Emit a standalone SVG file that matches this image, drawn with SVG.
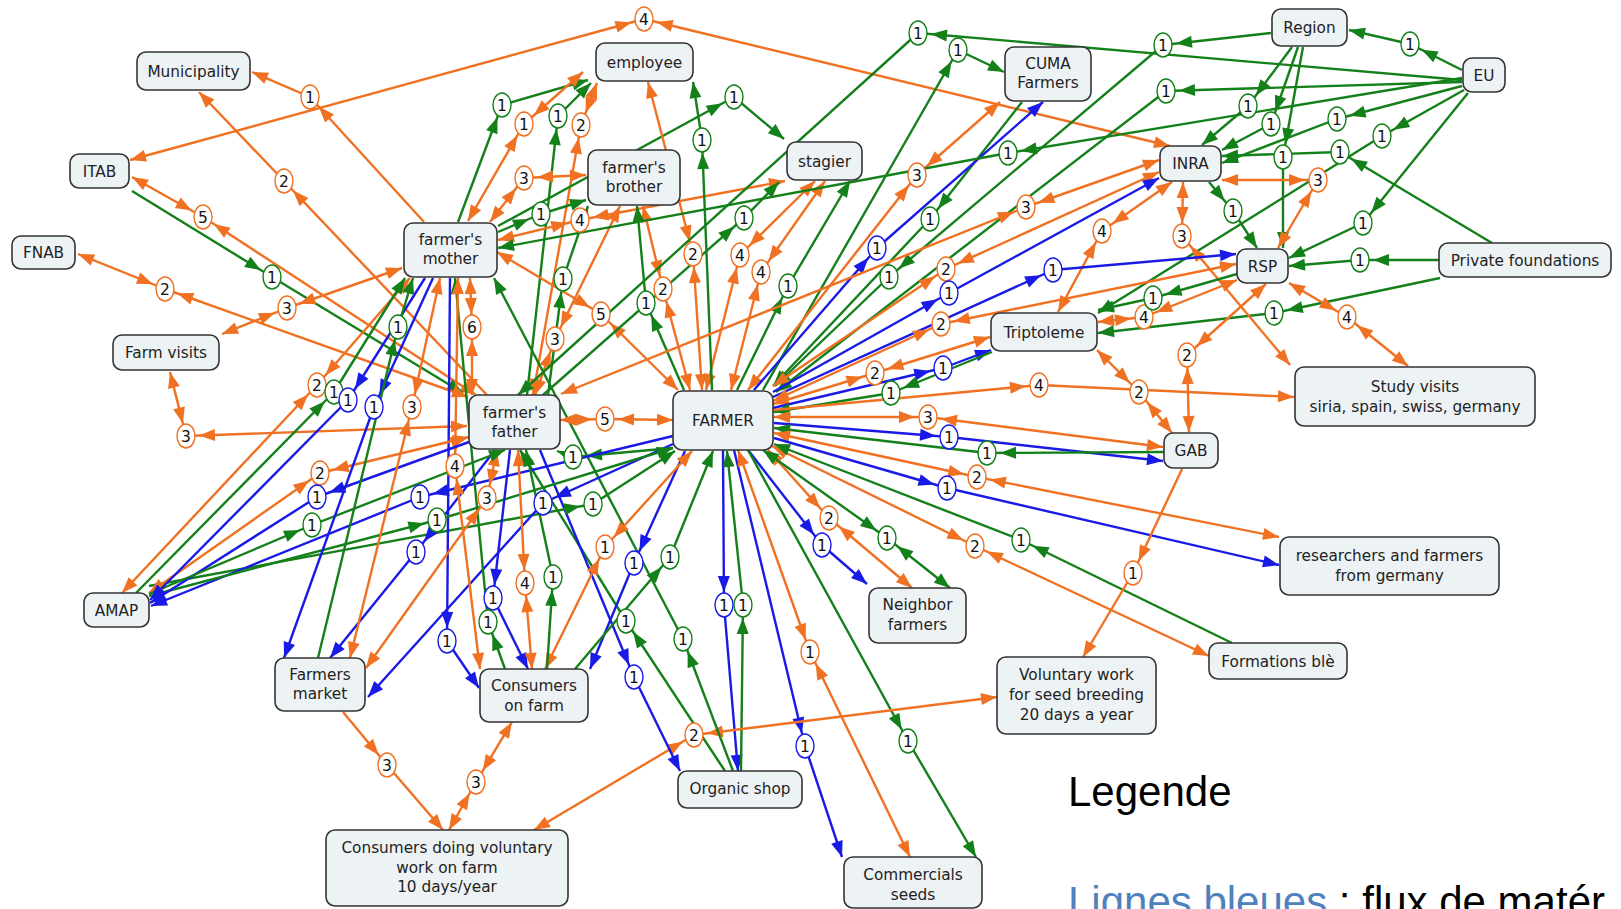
<svg xmlns="http://www.w3.org/2000/svg" width="1621" height="909" viewBox="0 0 1621 909">
<style>
#connectors path{fill:none;stroke-width:2.4}
.ou1,.ou2,.ob1,.ob2{stroke:#f07122}
.gu1,.gu2,.gb1,.gb2{stroke:#14801a}
.bu1,.bu2{stroke:#1a1ae6}
.ou1{marker-end:url(#oL)} .ou2{marker-end:url(#oN)}
.ob1{marker-start:url(#oN);marker-end:url(#oL)} .ob2{marker-start:url(#oL);marker-end:url(#oN)}
.gu1{marker-end:url(#gL)} .gu2{marker-end:url(#gN)}
.gb1{marker-start:url(#gN);marker-end:url(#gL)} .gb2{marker-start:url(#gL);marker-end:url(#gN)}
.bu1{marker-end:url(#bL)} .bu2{marker-end:url(#bN)}
.lo,.lg,.lb{fill:#fff;stroke-width:1.4}
.lo{stroke:#f07122} .lg{stroke:#14801a} .lb{stroke:#1a1ae6}
.lt{font-family:"DejaVu Sans",Verdana,sans-serif;font-size:15.5px;fill:#111;text-anchor:middle}
.node rect{fill:#edf2f5;stroke:#333;stroke-width:1.6}
.node text{font-family:"DejaVu Sans",Verdana,sans-serif;font-size:15.3px;fill:#222;text-anchor:middle}
.leg{font-family:"Liberation Sans",Arial,sans-serif;font-size:42px;fill:#000}
</style>
<defs>
<marker id="oN" markerUnits="userSpaceOnUse" markerWidth="16" markerHeight="13" refX="16" refY="6.5" orient="auto-start-reverse" overflow="visible"><path d="M0 0.5L16 6.5L0 12.5z" fill="#f07122" stroke="none"/></marker>
<marker id="oL" markerUnits="userSpaceOnUse" markerWidth="16" markerHeight="13" refX="29" refY="6.5" orient="auto-start-reverse" overflow="visible"><path d="M0 0.5L16 6.5L0 12.5z" fill="#f07122" stroke="none"/></marker>
<marker id="gN" markerUnits="userSpaceOnUse" markerWidth="16" markerHeight="13" refX="16" refY="6.5" orient="auto-start-reverse" overflow="visible"><path d="M0 0.5L16 6.5L0 12.5z" fill="#14801a" stroke="none"/></marker>
<marker id="gL" markerUnits="userSpaceOnUse" markerWidth="16" markerHeight="13" refX="29" refY="6.5" orient="auto-start-reverse" overflow="visible"><path d="M0 0.5L16 6.5L0 12.5z" fill="#14801a" stroke="none"/></marker>
<marker id="bN" markerUnits="userSpaceOnUse" markerWidth="16" markerHeight="13" refX="16" refY="6.5" orient="auto-start-reverse" overflow="visible"><path d="M0 0.5L16 6.5L0 12.5z" fill="#1a1ae6" stroke="none"/></marker>
<marker id="bL" markerUnits="userSpaceOnUse" markerWidth="16" markerHeight="13" refX="29" refY="6.5" orient="auto-start-reverse" overflow="visible"><path d="M0 0.5L16 6.5L0 12.5z" fill="#1a1ae6" stroke="none"/></marker>
</defs>
<rect width="1621" height="909" fill="#fff"/>
<g id="connectors">
<path class="ob1" d="M130 160L644 19"/><path class="ob2" d="M644 19L1170 146"/>
<path class="ou1" d="M424 222L310 97"/><path class="ou2" d="M310 97L252 72"/>
<path class="ou1" d="M487 395L284 181"/><path class="ou2" d="M284 181L199 92"/>
<path class="ob1" d="M132 177L203 217"/><path class="ob2" d="M203 217L476 395"/>
<path class="gu1" d="M132 191L272 277"/><path class="gu2" d="M272 277L463 393"/>
<path class="ob1" d="M78 254L165 289"/><path class="ob2" d="M165 289L468 397"/>
<path class="ob1" d="M222 334L287 308"/><path class="ob2" d="M287 308L402 268"/>
<path class="ob1" d="M170 372L186 436"/><path class="ob2" d="M186 436L467 426"/>
<path class="gu1" d="M458 222L502 105"/><path class="gu2" d="M502 105L588 80"/>
<path class="ob1" d="M468 221L524 124"/><path class="ob2" d="M524 124L583 72"/>
<path class="gu1" d="M527 395L558 116"/><path class="gu2" d="M558 116L591 83"/>
<path class="ob1" d="M533 395L581 125"/><path class="ob2" d="M581 125L597 83"/>
<path class="ob1" d="M490 222L524 178"/><path class="ob2" d="M524 178L586 175"/>
<path class="gu1" d="M498 232L541 214"/><path class="gu2" d="M541 214L586 200"/>
<path class="gu1" d="M498 226L734 97"/><path class="gu2" d="M734 97L784 139"/>
<path class="ob1" d="M498 240L580 220"/><path class="ob2" d="M580 220L785 181"/>
<path class="gu1" d="M548 395L563 279"/><path class="gu2" d="M563 279L588 206"/>
<path class="ob1" d="M648 82L693 254"/><path class="ob2" d="M693 254L702 390"/>
<path class="ob1" d="M643 206L663 289"/><path class="ob2" d="M663 289L690 390"/>
<path class="gu1" d="M684 390L646 303"/><path class="gu2" d="M646 303L637 206"/>
<path class="ob1" d="M497 252L601 314"/><path class="ob2" d="M601 314L678 390"/>
<path class="ob1" d="M620 206L555 339"/><path class="ob2" d="M555 339L535 395"/>
<path class="gu1" d="M543 395L744 218"/><path class="gu2" d="M744 218L779 182"/>
<path class="ob1" d="M815 181L740 255"/><path class="ob2" d="M740 255L706 390"/>
<path class="ob1" d="M825 181L761 272"/><path class="ob2" d="M761 272L731 390"/>
<path class="gu1" d="M737 390L788 286"/><path class="gu2" d="M788 286L850 181"/>
<path class="gu1" d="M712 390L702 140"/><path class="gu2" d="M702 140L693 82"/>
<path class="gu1" d="M1462 80L918 33"/><path class="gu2" d="M918 33L518 395"/>
<path class="gu1" d="M763 390L958 50"/><path class="gu2" d="M958 50L1004 72"/>
<path class="ob1" d="M748 390L917 175"/><path class="ob2" d="M917 175L1000 102"/>
<path class="gu1" d="M1022 102L930 219"/><path class="gu2" d="M930 219L773 386"/>
<path class="bu1" d="M754 390L877 248"/><path class="bu2" d="M877 248L1043 102"/>
<path class="gu1" d="M1271 33L1163 45"/><path class="gu1" d="M1163 45L889 277"/>
<path class="gu2" d="M889 277L775 386"/>
<path class="gu1" d="M1462 82L1166 91"/><path class="gu2" d="M1166 91L776 392"/>
<path class="gu1" d="M1462 70L1410 44"/><path class="gu2" d="M1410 44L1349 30"/>
<path class="gu1" d="M1292 47L1248 106"/><path class="gu2" d="M1248 106L1202 145"/>
<path class="gu1" d="M1298 47L1271 124"/><path class="gu2" d="M1271 124L1222 150"/>
<path class="gu1" d="M1303 47L1283 157"/><path class="gu2" d="M1283 157L1283 248"/>
<path class="gu1" d="M1462 86L1337 119"/><path class="gu2" d="M1337 119L1222 163"/>
<path class="gu1" d="M1464 90L1382 136"/><path class="gu2" d="M1382 136L1098 313"/>
<path class="gu1" d="M1468 93L1363 223"/><path class="gu2" d="M1363 223L1289 258"/>
<path class="gu1" d="M1439 260L1360 260"/><path class="gu2" d="M1360 260L1289 266"/>
<path class="gu1" d="M1492 243L1340 152"/><path class="gu2" d="M1340 152L1222 156"/>
<path class="gu1" d="M1440 278L1274 313"/><path class="gu2" d="M1274 313L1098 333"/>
<path class="gu1" d="M1209 182L1233 211"/><path class="gu2" d="M1233 211L1257 248"/>
<path class="gu1" d="M1462 78L1008 153"/><path class="gu2" d="M1008 153L498 248"/>
<path class="ob1" d="M1222 180L1318 180"/><path class="ob2" d="M1318 180L1278 248"/>
<path class="ob1" d="M1183 182L1182 236"/><path class="ob2" d="M1182 236L1290 365"/>
<path class="ob1" d="M1058 312L1102 231"/><path class="ob2" d="M1102 231L1172 182"/>
<path class="ob1" d="M561 394L1026 207"/><path class="ob2" d="M1026 207L1159 160"/>
<path class="ob1" d="M773 386L946 269"/><path class="ob2" d="M946 269L1159 172"/>
<path class="bu1" d="M773 392L949 293"/><path class="bu2" d="M949 293L1159 178"/>
<path class="bu1" d="M773 397L1053 270"/><path class="bu2" d="M1053 270L1236 254"/>
<path class="ob1" d="M773 401L941 324"/><path class="ob2" d="M941 324L1236 264"/>
<path class="ob1" d="M773 404L875 373"/><path class="ob2" d="M875 373L990 337"/>
<path class="bu1" d="M773 408L943 368"/><path class="bu2" d="M943 368L991 350"/>
<path class="gu1" d="M992 352L891 393"/><path class="gu2" d="M891 393L774 412"/>
<path class="ou1" d="M774 410L1039 385"/><path class="ou2" d="M1039 385L1294 397"/>
<path class="ob1" d="M1097 350L1139 392"/><path class="ob2" d="M1139 392L1172 433"/>
<path class="ob1" d="M1266 284L1187 355"/><path class="ob2" d="M1187 355L1189 432"/>
<path class="ob1" d="M1098 322L1144 317"/><path class="ob2" d="M1144 317L1237 280"/>
<path class="gu1" d="M1237 274L1153 298"/><path class="gu2" d="M1153 298L1098 310"/>
<path class="ob1" d="M1289 283L1347 317"/><path class="ob2" d="M1347 317L1408 366"/>
<path class="ob1" d="M774 417L928 417"/><path class="ob2" d="M928 417L1163 447"/>
<path class="bu1" d="M774 423L949 437"/><path class="bu2" d="M949 437L1163 461"/>
<path class="gu1" d="M1164 452L987 453"/><path class="gu2" d="M987 453L774 428"/>
<path class="ob1" d="M774 433L977 477"/><path class="ob2" d="M977 477L1279 537"/>
<path class="bu1" d="M774 438L947 488"/><path class="bu2" d="M947 488L1279 565"/>
<path class="ob1" d="M772 446L975 546"/><path class="ob2" d="M975 546L1209 656"/>
<path class="gu1" d="M1232 643L1021 540"/><path class="gu2" d="M1021 540L774 444"/>
<path class="ou1" d="M1182 469L1133 573"/><path class="ou2" d="M1133 573L1083 657"/>
<path class="ob1" d="M768 450L829 518"/><path class="ob2" d="M829 518L912 588"/>
<path class="gb1" d="M763 450L887 538"/><path class="gb2" d="M887 538L950 588"/>
<path class="bu1" d="M748 450L822 545"/><path class="bu2" d="M822 545L867 584"/>
<path class="bu1" d="M723 450L724 605"/><path class="bu2" d="M724 605L738 771"/>
<path class="gu1" d="M741 771L743 605"/><path class="gu2" d="M743 605L727 451"/>
<path class="bu1" d="M734 450L805 746"/><path class="bu2" d="M805 746L842 857"/>
<path class="ob1" d="M738 450L810 652"/><path class="ob2" d="M810 652L910 857"/>
<path class="gu1" d="M748 450L908 741"/><path class="gu2" d="M908 741L976 857"/>
<path class="ob1" d="M997 697L694 735"/><path class="ob2" d="M694 735L534 830"/>
<path class="gu1" d="M733 771L683 639"/><path class="gu2" d="M683 639L494 278"/>
<path class="gu1" d="M725 771L626 621"/><path class="gu2" d="M626 621L520 450"/>
<path class="bu1" d="M540 450L634 677"/><path class="bu2" d="M634 677L680 771"/>
<path class="bu1" d="M685 451L634 563"/><path class="bu2" d="M634 563L590 669"/>
<path class="gu1" d="M575 669L670 557"/><path class="gu2" d="M670 557L713 451"/>
<path class="ob1" d="M692 451L605 547"/><path class="ob2" d="M605 547L545 669"/>
<path class="gu1" d="M149 586L593 504"/><path class="gu2" d="M593 504L675 451"/>
<path class="ob1" d="M560 420L605 419"/><path class="ob2" d="M605 419L673 420"/>
<path class="gu1" d="M673 448L573 457"/><path class="gu2" d="M573 457L557 451"/>
<path class="bu1" d="M450 278L447 641"/><path class="bu2" d="M447 641L479 688"/>
<path class="bu1" d="M673 444L543 503"/><path class="bu2" d="M543 503L368 697"/>
<path class="bu1" d="M673 436L420 497"/><path class="bu2" d="M420 497L151 606"/>
<path class="gu1" d="M149 596L437 520"/><path class="gu2" d="M437 520L673 448"/>
<path class="bu1" d="M495 450L416 552"/><path class="bu2" d="M416 552L330 658"/>
<path class="bu1" d="M510 450L493 598"/><path class="bu2" d="M493 598L528 669"/>
<path class="gu1" d="M505 669L488 622"/><path class="gu2" d="M488 622L455 278"/>
<path class="ob1" d="M518 450L525 583"/><path class="ob2" d="M525 583L532 669"/>
<path class="gu1" d="M547 669L553 577"/><path class="gu2" d="M553 577L526 450"/>
<path class="ob1" d="M497 450L487 498"/><path class="ob2" d="M487 498L366 668"/>
<path class="ob1" d="M458 278L455 466"/><path class="ob2" d="M455 466L480 669"/>
<path class="ob1" d="M469 437L320 473"/><path class="ob2" d="M320 473L149 593"/>
<path class="bu1" d="M469 442L317 497"/><path class="bu2" d="M317 497L150 603"/>
<path class="gu1" d="M149 594L312 525"/><path class="gu2" d="M312 525L505 450"/>
<path class="ob1" d="M410 278L317 385"/><path class="ob2" d="M317 385L122 593"/>
<path class="gu1" d="M136 593L334 392"/><path class="gu2" d="M334 392L405 278"/>
<path class="bu1" d="M425 278L348 400"/><path class="bu2" d="M348 400L150 600"/>
<path class="bu1" d="M433 278L374 407"/><path class="bu2" d="M374 407L284 658"/>
<path class="gu1" d="M318 658L398 327"/><path class="gu2" d="M398 327L413 278"/>
<path class="ob1" d="M470 278L472 327"/><path class="ob2" d="M472 327L472 395"/>
<path class="ob1" d="M440 278L412 407"/><path class="ob2" d="M412 407L350 658"/>
<path class="ou1" d="M343 712L387 765"/><path class="ou2" d="M387 765L443 830"/>
<path class="ob1" d="M512 722L476 782"/><path class="ob2" d="M476 782L449 830"/>
<g id="labels">
<ellipse class="lo" cx="644" cy="19" rx="9" ry="12"/><text class="lt" x="644" y="24.5">4</text>
<ellipse class="lo" cx="310" cy="97" rx="9" ry="12"/><text class="lt" x="310" y="102.5">1</text>
<ellipse class="lo" cx="284" cy="181" rx="9" ry="12"/><text class="lt" x="284" y="186.5">2</text>
<ellipse class="lo" cx="203" cy="217" rx="9" ry="12"/><text class="lt" x="203" y="222.5">5</text>
<ellipse class="lg" cx="272" cy="277" rx="9" ry="12"/><text class="lt" x="272" y="282.5">1</text>
<ellipse class="lo" cx="165" cy="289" rx="9" ry="12"/><text class="lt" x="165" y="294.5">2</text>
<ellipse class="lo" cx="287" cy="308" rx="9" ry="12"/><text class="lt" x="287" y="313.5">3</text>
<ellipse class="lo" cx="186" cy="436" rx="9" ry="12"/><text class="lt" x="186" y="441.5">3</text>
<ellipse class="lg" cx="502" cy="105" rx="9" ry="12"/><text class="lt" x="502" y="110.5">1</text>
<ellipse class="lo" cx="524" cy="124" rx="9" ry="12"/><text class="lt" x="524" y="129.5">1</text>
<ellipse class="lg" cx="558" cy="116" rx="9" ry="12"/><text class="lt" x="558" y="121.5">1</text>
<ellipse class="lo" cx="581" cy="125" rx="9" ry="12"/><text class="lt" x="581" y="130.5">2</text>
<ellipse class="lo" cx="524" cy="178" rx="9" ry="12"/><text class="lt" x="524" y="183.5">3</text>
<ellipse class="lg" cx="541" cy="214" rx="9" ry="12"/><text class="lt" x="541" y="219.5">1</text>
<ellipse class="lg" cx="734" cy="97" rx="9" ry="12"/><text class="lt" x="734" y="102.5">1</text>
<ellipse class="lo" cx="580" cy="220" rx="9" ry="12"/><text class="lt" x="580" y="225.5">4</text>
<ellipse class="lg" cx="563" cy="279" rx="9" ry="12"/><text class="lt" x="563" y="284.5">1</text>
<ellipse class="lo" cx="693" cy="254" rx="9" ry="12"/><text class="lt" x="693" y="259.5">2</text>
<ellipse class="lo" cx="663" cy="289" rx="9" ry="12"/><text class="lt" x="663" y="294.5">2</text>
<ellipse class="lg" cx="646" cy="303" rx="9" ry="12"/><text class="lt" x="646" y="308.5">1</text>
<ellipse class="lo" cx="601" cy="314" rx="9" ry="12"/><text class="lt" x="601" y="319.5">5</text>
<ellipse class="lo" cx="555" cy="339" rx="9" ry="12"/><text class="lt" x="555" y="344.5">3</text>
<ellipse class="lg" cx="744" cy="218" rx="9" ry="12"/><text class="lt" x="744" y="223.5">1</text>
<ellipse class="lo" cx="740" cy="255" rx="9" ry="12"/><text class="lt" x="740" y="260.5">4</text>
<ellipse class="lo" cx="761" cy="272" rx="9" ry="12"/><text class="lt" x="761" y="277.5">4</text>
<ellipse class="lg" cx="788" cy="286" rx="9" ry="12"/><text class="lt" x="788" y="291.5">1</text>
<ellipse class="lg" cx="702" cy="140" rx="9" ry="12"/><text class="lt" x="702" y="145.5">1</text>
<ellipse class="lg" cx="918" cy="33" rx="9" ry="12"/><text class="lt" x="918" y="38.5">1</text>
<ellipse class="lg" cx="958" cy="50" rx="9" ry="12"/><text class="lt" x="958" y="55.5">1</text>
<ellipse class="lo" cx="917" cy="175" rx="9" ry="12"/><text class="lt" x="917" y="180.5">3</text>
<ellipse class="lg" cx="930" cy="219" rx="9" ry="12"/><text class="lt" x="930" y="224.5">1</text>
<ellipse class="lb" cx="877" cy="248" rx="9" ry="12"/><text class="lt" x="877" y="253.5">1</text>
<ellipse class="lg" cx="1163" cy="45" rx="9" ry="12"/><text class="lt" x="1163" y="50.5">1</text>
<ellipse class="lg" cx="889" cy="277" rx="9" ry="12"/><text class="lt" x="889" y="282.5">1</text>
<ellipse class="lg" cx="1166" cy="91" rx="9" ry="12"/><text class="lt" x="1166" y="96.5">1</text>
<ellipse class="lg" cx="1410" cy="44" rx="9" ry="12"/><text class="lt" x="1410" y="49.5">1</text>
<ellipse class="lg" cx="1248" cy="106" rx="9" ry="12"/><text class="lt" x="1248" y="111.5">1</text>
<ellipse class="lg" cx="1271" cy="124" rx="9" ry="12"/><text class="lt" x="1271" y="129.5">1</text>
<ellipse class="lg" cx="1283" cy="157" rx="9" ry="12"/><text class="lt" x="1283" y="162.5">1</text>
<ellipse class="lg" cx="1337" cy="119" rx="9" ry="12"/><text class="lt" x="1337" y="124.5">1</text>
<ellipse class="lg" cx="1382" cy="136" rx="9" ry="12"/><text class="lt" x="1382" y="141.5">1</text>
<ellipse class="lg" cx="1363" cy="223" rx="9" ry="12"/><text class="lt" x="1363" y="228.5">1</text>
<ellipse class="lg" cx="1360" cy="260" rx="9" ry="12"/><text class="lt" x="1360" y="265.5">1</text>
<ellipse class="lg" cx="1340" cy="152" rx="9" ry="12"/><text class="lt" x="1340" y="157.5">1</text>
<ellipse class="lg" cx="1274" cy="313" rx="9" ry="12"/><text class="lt" x="1274" y="318.5">1</text>
<ellipse class="lg" cx="1233" cy="211" rx="9" ry="12"/><text class="lt" x="1233" y="216.5">1</text>
<ellipse class="lg" cx="1008" cy="153" rx="9" ry="12"/><text class="lt" x="1008" y="158.5">1</text>
<ellipse class="lo" cx="1318" cy="180" rx="9" ry="12"/><text class="lt" x="1318" y="185.5">3</text>
<ellipse class="lo" cx="1182" cy="236" rx="9" ry="12"/><text class="lt" x="1182" y="241.5">3</text>
<ellipse class="lo" cx="1102" cy="231" rx="9" ry="12"/><text class="lt" x="1102" y="236.5">4</text>
<ellipse class="lo" cx="1026" cy="207" rx="9" ry="12"/><text class="lt" x="1026" y="212.5">3</text>
<ellipse class="lo" cx="946" cy="269" rx="9" ry="12"/><text class="lt" x="946" y="274.5">2</text>
<ellipse class="lb" cx="949" cy="293" rx="9" ry="12"/><text class="lt" x="949" y="298.5">1</text>
<ellipse class="lb" cx="1053" cy="270" rx="9" ry="12"/><text class="lt" x="1053" y="275.5">1</text>
<ellipse class="lo" cx="941" cy="324" rx="9" ry="12"/><text class="lt" x="941" y="329.5">2</text>
<ellipse class="lo" cx="875" cy="373" rx="9" ry="12"/><text class="lt" x="875" y="378.5">2</text>
<ellipse class="lb" cx="943" cy="368" rx="9" ry="12"/><text class="lt" x="943" y="373.5">1</text>
<ellipse class="lg" cx="891" cy="393" rx="9" ry="12"/><text class="lt" x="891" y="398.5">1</text>
<ellipse class="lo" cx="1039" cy="385" rx="9" ry="12"/><text class="lt" x="1039" y="390.5">4</text>
<ellipse class="lo" cx="1139" cy="392" rx="9" ry="12"/><text class="lt" x="1139" y="397.5">2</text>
<ellipse class="lo" cx="1187" cy="355" rx="9" ry="12"/><text class="lt" x="1187" y="360.5">2</text>
<ellipse class="lo" cx="1144" cy="317" rx="9" ry="12"/><text class="lt" x="1144" y="322.5">4</text>
<ellipse class="lg" cx="1153" cy="298" rx="9" ry="12"/><text class="lt" x="1153" y="303.5">1</text>
<ellipse class="lo" cx="1347" cy="317" rx="9" ry="12"/><text class="lt" x="1347" y="322.5">4</text>
<ellipse class="lo" cx="928" cy="417" rx="9" ry="12"/><text class="lt" x="928" y="422.5">3</text>
<ellipse class="lb" cx="949" cy="437" rx="9" ry="12"/><text class="lt" x="949" y="442.5">1</text>
<ellipse class="lg" cx="987" cy="453" rx="9" ry="12"/><text class="lt" x="987" y="458.5">1</text>
<ellipse class="lo" cx="977" cy="477" rx="9" ry="12"/><text class="lt" x="977" y="482.5">2</text>
<ellipse class="lb" cx="947" cy="488" rx="9" ry="12"/><text class="lt" x="947" y="493.5">1</text>
<ellipse class="lo" cx="975" cy="546" rx="9" ry="12"/><text class="lt" x="975" y="551.5">2</text>
<ellipse class="lg" cx="1021" cy="540" rx="9" ry="12"/><text class="lt" x="1021" y="545.5">1</text>
<ellipse class="lo" cx="1133" cy="573" rx="9" ry="12"/><text class="lt" x="1133" y="578.5">1</text>
<ellipse class="lo" cx="829" cy="518" rx="9" ry="12"/><text class="lt" x="829" y="523.5">2</text>
<ellipse class="lg" cx="887" cy="538" rx="9" ry="12"/><text class="lt" x="887" y="543.5">1</text>
<ellipse class="lb" cx="822" cy="545" rx="9" ry="12"/><text class="lt" x="822" y="550.5">1</text>
<ellipse class="lb" cx="724" cy="605" rx="9" ry="12"/><text class="lt" x="724" y="610.5">1</text>
<ellipse class="lg" cx="743" cy="605" rx="9" ry="12"/><text class="lt" x="743" y="610.5">1</text>
<ellipse class="lb" cx="805" cy="746" rx="9" ry="12"/><text class="lt" x="805" y="751.5">1</text>
<ellipse class="lo" cx="810" cy="652" rx="9" ry="12"/><text class="lt" x="810" y="657.5">1</text>
<ellipse class="lg" cx="908" cy="741" rx="9" ry="12"/><text class="lt" x="908" y="746.5">1</text>
<ellipse class="lo" cx="694" cy="735" rx="9" ry="12"/><text class="lt" x="694" y="740.5">2</text>
<ellipse class="lg" cx="683" cy="639" rx="9" ry="12"/><text class="lt" x="683" y="644.5">1</text>
<ellipse class="lg" cx="626" cy="621" rx="9" ry="12"/><text class="lt" x="626" y="626.5">1</text>
<ellipse class="lb" cx="634" cy="677" rx="9" ry="12"/><text class="lt" x="634" y="682.5">1</text>
<ellipse class="lb" cx="634" cy="563" rx="9" ry="12"/><text class="lt" x="634" y="568.5">1</text>
<ellipse class="lg" cx="670" cy="557" rx="9" ry="12"/><text class="lt" x="670" y="562.5">1</text>
<ellipse class="lo" cx="605" cy="547" rx="9" ry="12"/><text class="lt" x="605" y="552.5">1</text>
<ellipse class="lg" cx="593" cy="504" rx="9" ry="12"/><text class="lt" x="593" y="509.5">1</text>
<ellipse class="lo" cx="605" cy="419" rx="9" ry="12"/><text class="lt" x="605" y="424.5">5</text>
<ellipse class="lg" cx="573" cy="457" rx="9" ry="12"/><text class="lt" x="573" y="462.5">1</text>
<ellipse class="lb" cx="447" cy="641" rx="9" ry="12"/><text class="lt" x="447" y="646.5">1</text>
<ellipse class="lb" cx="543" cy="503" rx="9" ry="12"/><text class="lt" x="543" y="508.5">1</text>
<ellipse class="lb" cx="420" cy="497" rx="9" ry="12"/><text class="lt" x="420" y="502.5">1</text>
<ellipse class="lg" cx="437" cy="520" rx="9" ry="12"/><text class="lt" x="437" y="525.5">1</text>
<ellipse class="lb" cx="416" cy="552" rx="9" ry="12"/><text class="lt" x="416" y="557.5">1</text>
<ellipse class="lb" cx="493" cy="598" rx="9" ry="12"/><text class="lt" x="493" y="603.5">1</text>
<ellipse class="lg" cx="488" cy="622" rx="9" ry="12"/><text class="lt" x="488" y="627.5">1</text>
<ellipse class="lo" cx="525" cy="583" rx="9" ry="12"/><text class="lt" x="525" y="588.5">4</text>
<ellipse class="lg" cx="553" cy="577" rx="9" ry="12"/><text class="lt" x="553" y="582.5">1</text>
<ellipse class="lo" cx="487" cy="498" rx="9" ry="12"/><text class="lt" x="487" y="503.5">3</text>
<ellipse class="lo" cx="455" cy="466" rx="9" ry="12"/><text class="lt" x="455" y="471.5">4</text>
<ellipse class="lo" cx="320" cy="473" rx="9" ry="12"/><text class="lt" x="320" y="478.5">2</text>
<ellipse class="lb" cx="317" cy="497" rx="9" ry="12"/><text class="lt" x="317" y="502.5">1</text>
<ellipse class="lg" cx="312" cy="525" rx="9" ry="12"/><text class="lt" x="312" y="530.5">1</text>
<ellipse class="lo" cx="317" cy="385" rx="9" ry="12"/><text class="lt" x="317" y="390.5">2</text>
<ellipse class="lg" cx="334" cy="392" rx="9" ry="12"/><text class="lt" x="334" y="397.5">1</text>
<ellipse class="lb" cx="348" cy="400" rx="9" ry="12"/><text class="lt" x="348" y="405.5">1</text>
<ellipse class="lb" cx="374" cy="407" rx="9" ry="12"/><text class="lt" x="374" y="412.5">1</text>
<ellipse class="lg" cx="398" cy="327" rx="9" ry="12"/><text class="lt" x="398" y="332.5">1</text>
<ellipse class="lo" cx="472" cy="327" rx="9" ry="12"/><text class="lt" x="472" y="332.5">6</text>
<ellipse class="lo" cx="412" cy="407" rx="9" ry="12"/><text class="lt" x="412" y="412.5">3</text>
<ellipse class="lo" cx="387" cy="765" rx="9" ry="12"/><text class="lt" x="387" y="770.5">3</text>
<ellipse class="lo" cx="476" cy="782" rx="9" ry="12"/><text class="lt" x="476" y="787.5">3</text>
</g>
</g>
<g id="n-municipality" class="node"><rect x="137" y="52" width="113" height="38" rx="9"/><text x="193.5" y="76.5">Municipality</text></g>
<g id="n-itab" class="node"><rect x="70" y="154" width="59" height="34" rx="9"/><text x="99.5" y="176.5">ITAB</text></g>
<g id="n-fnab" class="node"><rect x="12" y="236" width="63" height="33" rx="9"/><text x="43.5" y="258">FNAB</text></g>
<g id="n-farmvisits" class="node"><rect x="113" y="335" width="106" height="35" rx="9"/><text x="166" y="358">Farm visits</text></g>
<g id="n-mother" class="node"><rect x="404" y="223" width="93" height="54" rx="9"/><text x="450.5" y="245">farmer's</text><text x="450.5" y="264">mother</text></g>
<g id="n-employee" class="node"><rect x="596" y="43" width="97" height="38" rx="9"/><text x="644.5" y="67.5">employee</text></g>
<g id="n-brother" class="node"><rect x="588" y="150" width="92" height="55" rx="9"/><text x="634" y="172.5">farmer's</text><text x="634" y="191.5">brother</text></g>
<g id="n-stagier" class="node"><rect x="787" y="142" width="75" height="38" rx="9"/><text x="824.5" y="166.5">stagier</text></g>
<g id="n-cuma" class="node"><rect x="1005" y="47" width="86" height="54" rx="9"/><text x="1048" y="69">CUMA</text><text x="1048" y="88">Farmers</text></g>
<g id="n-region" class="node"><rect x="1272" y="9" width="75" height="37" rx="9"/><text x="1309.5" y="33">Region</text></g>
<g id="n-eu" class="node"><rect x="1463" y="58" width="42" height="34" rx="9"/><text x="1484" y="80.5">EU</text></g>
<g id="n-inra" class="node"><rect x="1160" y="146" width="61" height="35" rx="9"/><text x="1190.5" y="169">INRA</text></g>
<g id="n-rsp" class="node"><rect x="1237" y="249" width="51" height="34" rx="9"/><text x="1262.5" y="271.5">RSP</text></g>
<g id="n-private" class="node"><rect x="1439" y="243" width="172" height="34" rx="9"/><text x="1525" y="265.5">Private foundations</text></g>
<g id="n-triptoleme" class="node"><rect x="991" y="313" width="106" height="38" rx="9"/><text x="1044" y="337.5">Triptoleme</text></g>
<g id="n-study" class="node"><rect x="1295" y="367" width="240" height="59" rx="9"/><text x="1415" y="391.5">Study visits</text><text x="1415" y="411.5">siria, spain, swiss, germany</text></g>
<g id="n-gab" class="node"><rect x="1164" y="433" width="54" height="35" rx="9"/><text x="1191" y="456">GAB</text></g>
<g id="n-researchers" class="node"><rect x="1280" y="537" width="219" height="58" rx="9"/><text x="1389.5" y="561">researchers and farmers</text><text x="1389.5" y="581">from germany</text></g>
<g id="n-formations" class="node"><rect x="1209" y="643" width="138" height="36" rx="9"/><text x="1278" y="666.5">Formations blè</text></g>
<g id="n-voluntary" class="node"><rect x="997" y="657" width="159" height="77" rx="9"/><text x="1076.5" y="680">Voluntary work</text><text x="1076.5" y="700">for seed breeding</text><text x="1076.5" y="720">20 days a year</text></g>
<g id="n-farmer" class="node"><rect x="673" y="391" width="100" height="59" rx="9"/><text x="723" y="426">FARMER</text></g>
<g id="n-father" class="node"><rect x="469" y="395" width="91" height="54" rx="9"/><text x="514.5" y="418">farmer's</text><text x="514.5" y="437">father</text></g>
<g id="n-amap" class="node"><rect x="84" y="593" width="65" height="34" rx="9"/><text x="116.5" y="615.5">AMAP</text></g>
<g id="n-market" class="node"><rect x="275" y="658" width="90" height="53" rx="9"/><text x="320" y="680">Farmers</text><text x="320" y="699">market</text></g>
<g id="n-consfarm" class="node"><rect x="480" y="669" width="108" height="53" rx="9"/><text x="534" y="691">Consumers</text><text x="534" y="711">on farm</text></g>
<g id="n-consvol" class="node"><rect x="326" y="830" width="242" height="76" rx="9"/><text x="447" y="853">Consumers doing voluntary</text><text x="447" y="873">work on farm</text><text x="447" y="892">10 days/year</text></g>
<g id="n-organic" class="node"><rect x="678" y="771" width="124" height="37" rx="9"/><text x="740" y="794">Organic shop</text></g>
<g id="n-commercial" class="node"><rect x="844" y="857" width="138" height="51" rx="9"/><text x="913" y="880">Commercials</text><text x="913" y="900">seeds</text></g>
<g id="n-neighbor" class="node"><rect x="869" y="588" width="97" height="55" rx="9"/><text x="917.5" y="610">Neighbor</text><text x="917.5" y="630">farmers</text></g>
<g id="legend">
<text class="leg" x="1068" y="806">Legende</text>
<text class="leg" x="1068" y="916" font-size="41"><tspan fill="#4f81bd">Lignes bleues</tspan> : flux de matér</text>
</g>
</svg>
